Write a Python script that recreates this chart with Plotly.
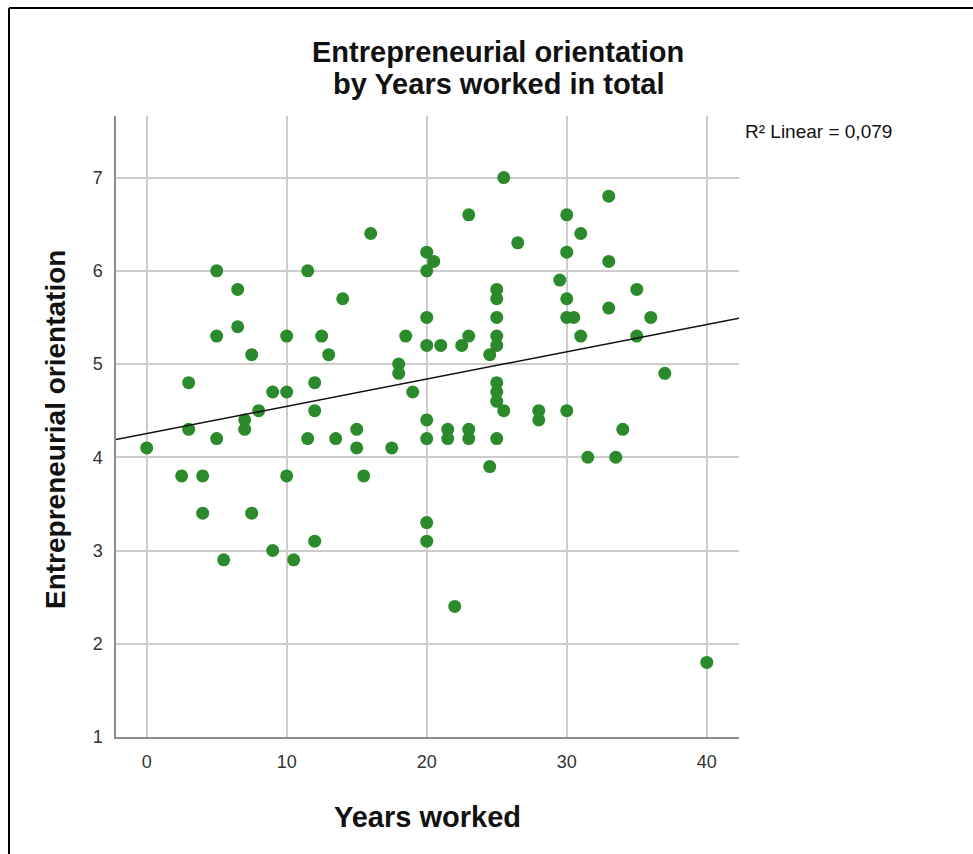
import numpy as np
import plotly.graph_objects as go

# Years worked in total vs. entrepreneurial orientation score
years_worked = [
    0, 2.5, 3, 3, 4, 4, 5, 5, 5, 5.5,
    6.5, 6.5, 7, 7, 7.5, 7.5, 8, 9, 9, 10,
    10, 10, 10.5, 11.5, 11.5, 12, 12, 12, 12.5, 13,
    13.5, 14, 15, 15, 15.5, 16, 17.5, 18, 18, 18.5,
    19, 20, 20, 20, 20, 20, 20, 20, 20, 20.5,
    21, 21.5, 21.5, 22, 22.5, 23, 23, 23, 23, 24.5,
    24.5, 25, 25, 25, 25, 25, 25, 25, 25, 25,
    25.5, 25.5, 26.5, 28, 28, 29.5, 30, 30, 30, 30,
    30, 30.5, 31, 31, 31.5, 33, 33, 33, 33.5, 34,
    35, 35, 36, 37, 40,
]
orientation = [
    4.1, 3.8, 4.8, 4.3, 3.8, 3.4, 6.0, 5.3, 4.2, 2.9,
    5.8, 5.4, 4.4, 4.3, 5.1, 3.4, 4.5, 4.7, 3.0, 5.3,
    4.7, 3.8, 2.9, 6.0, 4.2, 4.8, 4.5, 3.1, 5.3, 5.1,
    4.2, 5.7, 4.3, 4.1, 3.8, 6.4, 4.1, 5.0, 4.9, 5.3,
    4.7, 6.2, 6.0, 5.5, 5.2, 4.4, 4.2, 3.3, 3.1, 6.1,
    5.2, 4.3, 4.2, 2.4, 5.2, 6.6, 5.3, 4.3, 4.2, 5.1,
    3.9, 5.8, 5.7, 5.5, 5.3, 5.2, 4.8, 4.7, 4.6, 4.2,
    7.0, 4.5, 6.3, 4.5, 4.4, 5.9, 6.6, 6.2, 5.7, 5.5,
    4.5, 5.5, 6.4, 5.3, 4.0, 6.8, 6.1, 5.6, 4.0, 4.3,
    5.8, 5.3, 5.5, 4.9, 1.8,
]
x_ticks = [0, 10, 20, 30, 40]
y_ticks = [1, 2, 3, 4, 5, 6, 7]
title_lines = ["Entrepreneurial orientation", "by Years worked in total"]
x_title = "Years worked"
y_title = "Entrepreneurial orientation"
r2_text = "R² Linear = 0,079"

X_RANGE = [-2.19, 42.3]
Y_RANGE = [1, 7.66]

# Least-squares fit line across the full x range
slope, intercept = np.polyfit(years_worked, orientation, 1)
fit_x = np.array(X_RANGE)
fit_y = intercept + slope * fit_x

W, H = 973, 854
ML, MR, MT, MB = 116, 234, 116, 117
PW, PH = W - ML - MR, H - MT - MB


def px_to_paper_x(px):
    return (px - ML) / PW


def py_to_paper_y(py):
    return (H - MB - py) / PH


font_family = "Liberation Sans, Arial, sans-serif"
dark = "#111111"

fig = go.Figure()
fig.add_trace(go.Scatter(
    x=years_worked, y=orientation, mode="markers",
    marker=dict(size=13, color="#2b8a2b", line=dict(width=0)),
    showlegend=False, hoverinfo="x+y",
))
fig.add_trace(go.Scatter(
    x=fit_x, y=fit_y, mode="lines",
    line=dict(color=dark, width=1.5),
    showlegend=False, hoverinfo="skip",
))

annotations = []
for line_text, cy in zip(title_lines, [52, 84]):
    annotations.append(dict(
        text=f"<b>{line_text}</b>", xref="paper", yref="paper",
        x=px_to_paper_x(498), y=py_to_paper_y(cy),
        xanchor="center", yanchor="middle", showarrow=False,
        font=dict(size=29, color=dark, family=font_family),
    ))
annotations += [
    dict(text=f"<b>{x_title}</b>", xref="paper", yref="paper",
         x=px_to_paper_x(427), y=py_to_paper_y(817),
         xanchor="center", yanchor="middle", showarrow=False,
         font=dict(size=29, color=dark, family=font_family)),
    dict(text=f"<b>{y_title}</b>", xref="paper", yref="paper",
         x=px_to_paper_x(55), y=py_to_paper_y(430),
         xanchor="center", yanchor="middle", showarrow=False, textangle=-90,
         font=dict(size=28, color=dark, family=font_family)),
    dict(text=r2_text, xref="paper", yref="paper",
         x=px_to_paper_x(743), y=py_to_paper_y(131),
         xanchor="left", yanchor="middle", showarrow=False,
         font=dict(size=19, color=dark, family=font_family)),
]

fig.update_layout(
    width=W, height=H,
    margin=dict(l=ML, r=MR, t=MT, b=MB, pad=0),
    paper_bgcolor="white", plot_bgcolor="white",
    font=dict(family=font_family, color="#222222"),
    xaxis=dict(
        range=X_RANGE, tickvals=x_ticks, ticks="", showgrid=True,
        gridcolor="#cccccc", gridwidth=1.5, zeroline=False,
        showline=True, linecolor="#8c8c8c", linewidth=1.5,
        tickfont=dict(size=18, color="#333333"), ticklabelstandoff=8,
    ),
    yaxis=dict(
        range=Y_RANGE, tickvals=y_ticks, ticks="", showgrid=True,
        gridcolor="#cccccc", gridwidth=1.5, zeroline=False,
        showline=True, linecolor="#8c8c8c", linewidth=1.5,
        tickfont=dict(size=18, color="#333333"), ticklabelstandoff=8,
    ),
    annotations=annotations,
    shapes=[
        dict(type="line", xref="paper", yref="paper",
             x0=px_to_paper_x(9), x1=px_to_paper_x(9),
             y0=py_to_paper_y(8), y1=py_to_paper_y(860),
             line=dict(color="black", width=2)),
        dict(type="line", xref="paper", yref="paper",
             x0=px_to_paper_x(9), x1=px_to_paper_x(980),
             y0=py_to_paper_y(8), y1=py_to_paper_y(8),
             line=dict(color="black", width=2)),
    ],
)

fig.write_html("out.html")
